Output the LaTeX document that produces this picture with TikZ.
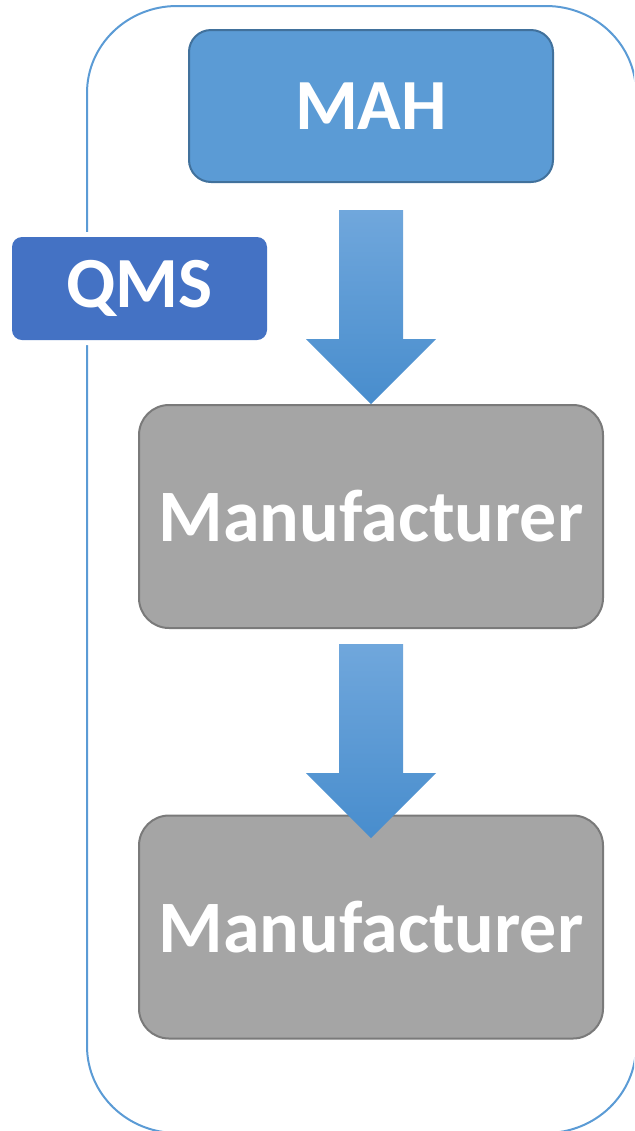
\documentclass[tikz,border=0pt]{standalone}
\usepackage{fontspec}
\setmainfont{Carlito}
\usetikzlibrary{calc}
\definecolor{mahblue}{HTML}{5B9BD5}
\definecolor{mahline}{HTML}{41719C}
\definecolor{qmsblue}{HTML}{4472C4}
\definecolor{mfgray}{HTML}{A5A5A5}
\definecolor{mfline}{HTML}{7A7A7A}
\definecolor{arrowtop}{HTML}{70A7DC}
\definecolor{arrowmid}{HTML}{559CDC}
\definecolor{arrowbot}{HTML}{488DCD}
\tikzset{
  mahbox/.style={draw=mahline, line width=1pt, fill=mahblue, rounded corners=11pt,
    minimum width=182pt, minimum height=76pt, text=white,
    font=\fontsize{36}{40}\selectfont\bfseries},
  mfbox/.style={draw=mfline, line width=1pt, fill=mfgray, rounded corners=15pt,
    minimum width=232pt, minimum height=111.5pt, text=white,
    font=\fontsize{37}{41}\selectfont\bfseries},
  qmsbox/.style={fill=qmsblue, rounded corners=5pt,
    preaction={draw=white, line width=5pt},
    minimum width=127.5pt, minimum height=51.5pt, text=white,
    font=\fontsize{36}{40}\selectfont\bfseries},
  arrowfill/.style={top color=arrowtop, middle color=arrowmid, bottom color=arrowbot}
}
% block arrow hanging down from a coordinate
\newcommand{\flowarrow}[1]{%
  \shade[arrowfill] (#1) ++(-32,0) -- ++(64,0) -- ++(0,129) -- ++(33,0)
    -- ++(-65,65) -- ++(-65,-65) -- ++(33,0) -- cycle;}
\begin{document}
\begin{tikzpicture}[x=0.5pt, y=-0.5pt]
  \useasboundingbox (0,0) rectangle (634,1131);
  \clip (0,0) rectangle (634,1131);
  \draw[mahblue, line width=1pt]
    (87,93) arc[start angle=180, end angle=270, x radius=90, y radius=87]
    -- (546,6) arc[start angle=270, end angle=360, x radius=90, y radius=87]
    -- (636,1046) arc[start angle=0, end angle=90, x radius=90, y radius=87]
    -- (177,1133) arc[start angle=90, end angle=180, x radius=90, y radius=87]
    -- cycle;
  \draw
    (371,106) node[mahbox] (mah){MAH}
    (139.5,288.5) node[qmsbox] (qms){QMS}
    (371,516.5) node[mfbox] (mf1){Manufacturer}
    (371,927) node[mfbox] (mf2){Manufacturer};
  \coordinate (a1) at ($(mah.south)+(0,27)$);
  \coordinate (a2) at ($(mf1.south)+(0,15)$);
  \begin{scope}
    \flowarrow{a1}
    \flowarrow{a2}
  \end{scope}
\end{tikzpicture}
\end{document}
